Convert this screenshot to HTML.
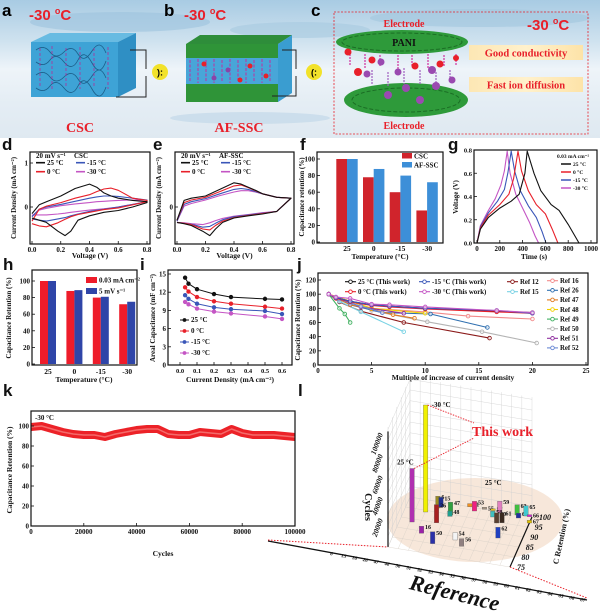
<!DOCTYPE html>
<html><head><meta charset="utf-8">
<style>
body{margin:0;background:#fff}
svg{display:block}
text{font-family:"Liberation Serif",serif;font-weight:bold}
.sans{font-family:"Liberation Sans",sans-serif}
</style></head>
<body>
<svg id="fig" width="600" height="614" viewBox="0 0 600 614" xmlns="http://www.w3.org/2000/svg">
<defs>
<linearGradient id="ice" x1="0" y1="0" x2="0" y2="1">
<stop offset="0" stop-color="#a8cbe3"/><stop offset="0.3" stop-color="#cfe2ef"/><stop offset="0.5" stop-color="#eef4f9"/><stop offset="0.75" stop-color="#e4edf4"/><stop offset="1" stop-color="#dfe9f1"/>
</linearGradient>
<linearGradient id="tag" x1="0" y1="0" x2="1" y2="0">
<stop offset="0" stop-color="#fde7b4"/><stop offset="0.5" stop-color="#fff1cc"/><stop offset="1" stop-color="#fde3a8"/>
</linearGradient>
</defs>
<g>
<rect x="0" y="0" width="600" height="138" fill="url(#ice)"/>
<ellipse cx="120" cy="22" rx="90" ry="10" fill="#9cc3dd" opacity="0.6"/>
<ellipse cx="300" cy="30" rx="70" ry="8" fill="#a6c9e0" opacity="0.6"/>
<ellipse cx="480" cy="18" rx="110" ry="9" fill="#a2c6de" opacity="0.6"/>
<ellipse cx="250" cy="118" rx="80" ry="6" fill="#c3d9e8" opacity="0.7"/>
<text x="2" y="16" font-size="17" class="sans">a</text>
<text x="164" y="16" font-size="17" class="sans">b</text>
<text x="311" y="16" font-size="17" class="sans">c</text>
<text x="29" y="20" font-size="15" fill="#e8202a" class="sans" font-weight="normal">-30 <tspan font-size="9" dy="-6">o</tspan><tspan dy="6">C</tspan></text>
<text x="184" y="20" font-size="15" fill="#e8202a" class="sans" font-weight="normal">-30 <tspan font-size="9" dy="-6">o</tspan><tspan dy="6">C</tspan></text>
<text x="527" y="30" font-size="15" fill="#e8202a" class="sans" font-weight="normal">-30 <tspan font-size="9" dy="-6">o</tspan><tspan dy="6">C</tspan></text>
<g>
<polygon points="31,42 118,42 136,33 50,33" fill="#5db7e0" opacity="0.9"/>
<polygon points="118,42 136,33 136,88 118,97" fill="#2f8fc4"/>
<rect x="31" y="42" width="87" height="55" fill="#3ea3d6"/>
<path d="M36,50 q8,-6 14,2 t14,0 t14,2 t14,-3 t14,2 M36,62 q8,6 14,-2 t14,2 t14,-2 t14,3 t14,-2 M36,75 q8,-6 14,2 t14,0 t14,2 t14,-3 t14,2 M36,88 q8,6 14,-2 t14,2 t14,-2 t14,3 t14,-2" stroke="#1c5f8a" stroke-width="0.8" fill="none"/>
<path d="M40,48 v40 M52,46 v45 M66,48 v40 M80,47 v42 M94,48 v40 M108,47 v42" stroke="#b0309a" stroke-width="0.8" stroke-dasharray="3 2" fill="none"/>
<polyline points="130,50 146,50 146,69" stroke="#222" stroke-width="1" fill="none"/>
<polyline points="116,97 146,97 146,76" stroke="#222" stroke-width="1" fill="none"/>
</g>
<circle cx="160" cy="72" r="8" fill="#f2e22a"/>
<text x="160" y="75.5" font-size="9" text-anchor="middle" class="sans">):</text>
<g>
<polygon points="186,44 278,44 292,35 200,35" fill="#2e8d3a"/>
<polygon points="278,44 292,35 292,93 278,102" fill="#3a9dd0"/>
<rect x="186" y="44" width="92" height="58" fill="#48a6d8"/>
<rect x="186" y="44" width="92" height="14" fill="#2f9438"/>
<rect x="186" y="84" width="92" height="18" fill="#2f9438"/>
<path d="M190,60 v22 M198,59 v24 M206,60 v22 M214,59 v24 M222,60 v22 M230,59 v24 M238,60 v22 M246,59 v24 M254,60 v22 M262,59 v24 M270,60 v22" stroke="#c0309e" stroke-width="1" stroke-dasharray="3 1.5"/>
<circle cx="204" cy="64" r="2.5" fill="#e8202a"/><circle cx="228" cy="70" r="2.5" fill="#8a44a8"/><circle cx="250" cy="66" r="2.5" fill="#e8202a"/><circle cx="266" cy="76" r="2.5" fill="#e8202a"/><circle cx="214" cy="78" r="2.5" fill="#8a44a8"/><circle cx="240" cy="80" r="2.5" fill="#e8202a"/>
<polyline points="282,50 296,50 296,69" stroke="#222" stroke-width="1" fill="none"/>
<polyline points="272,96 296,96 296,76" stroke="#222" stroke-width="1" fill="none"/>
</g>
<circle cx="314" cy="72" r="8" fill="#f2e22a"/>
<text x="314" y="75.5" font-size="9" text-anchor="middle" class="sans">(:</text>
<text x="80" y="132" font-size="14" fill="#e8202a" text-anchor="middle">CSC</text>
<text x="239" y="132" font-size="14" fill="#e8202a" text-anchor="middle">AF-SSC</text>
<rect x="334" y="12" width="254" height="122" fill="none" stroke="#e8202a" stroke-width="0.8" stroke-dasharray="2 1.5"/>
<g>
<ellipse cx="402" cy="42" rx="66" ry="12" fill="#2e9a3a"/>
<ellipse cx="402" cy="42" rx="60" ry="9" fill="none" stroke="#1b6e25" stroke-width="1" stroke-dasharray="4 2"/>
<ellipse cx="406" cy="100" rx="62" ry="17" fill="#2e9a3a"/>
<ellipse cx="406" cy="100" rx="54" ry="12" fill="none" stroke="#1b6e25" stroke-width="1" stroke-dasharray="4 2"/>
<path d="M350,54 v12 M365,54 v14 M380,55 v12 M398,55 v14 M412,55 v12 M428,54 v14 M444,55 v12 M456,54 v12" stroke="#d0309e" stroke-width="1.2" stroke-dasharray="2 1"/>
<path d="M372,70 v14 M388,72 v14 M404,68 v16 M420,70 v14 M436,72 v14 M450,70 v12" stroke="#a060c0" stroke-width="1.2" stroke-dasharray="2 1"/>
<circle cx="348" cy="52" r="3.5" fill="#e8202a"/><circle cx="372" cy="60" r="3.5" fill="#e8202a"/><circle cx="358" cy="72" r="4" fill="#e8202a"/><circle cx="415" cy="66" r="3.5" fill="#e8202a"/><circle cx="440" cy="64" r="3.5" fill="#e8202a"/><circle cx="456" cy="58" r="3" fill="#e8202a"/>
<circle cx="381" cy="62" r="3.5" fill="#9a4ab0"/><circle cx="367" cy="74" r="3.5" fill="#9a4ab0"/><circle cx="398" cy="72" r="3.5" fill="#9a4ab0"/><circle cx="432" cy="70" r="4" fill="#9a4ab0"/><circle cx="388" cy="95" r="4" fill="#9a4ab0"/><circle cx="406" cy="88" r="4" fill="#9a4ab0"/><circle cx="436" cy="86" r="4" fill="#9a4ab0"/><circle cx="452" cy="80" r="3.5" fill="#9a4ab0"/><circle cx="420" cy="100" r="4" fill="#9a4ab0"/>
</g>
<text x="404" y="27" font-size="10" fill="#e8202a" text-anchor="middle">Electrode</text>
<text x="404" y="46" font-size="10" fill="#111" text-anchor="middle">PANI</text>
<rect x="469" y="45" width="114" height="15" fill="url(#tag)"/>
<text x="526" y="56.5" font-size="10.5" fill="#e8202a" text-anchor="middle">Good conductivity</text>
<rect x="469" y="77" width="114" height="15" fill="url(#tag)"/>
<text x="526" y="88.5" font-size="10.5" fill="#e8202a" text-anchor="middle">Fast ion diffusion</text>
<text x="404" y="129" font-size="10" fill="#e8202a" text-anchor="middle">Electrode</text>
</g>
<g id="charts"></g>
</svg>
<script>
const cvV_up = [0,0.05,0.1,0.2,0.3,0.4,0.45,0.5,0.55,0.6,0.7,0.8];
const cvV_dn = [0.8,0.7,0.6,0.5,0.4,0.32,0.27,0.23,0.18,0.1,0.05,0];
const cscUp25 = [-0.15,0.05,0.12,0.25,0.42,0.52,0.45,0.32,0.25,0.2,0.15,0.12];
const cscDn25 = [0.1,0.0,-0.08,-0.12,-0.2,-0.3,-0.55,-0.65,-0.55,-0.35,-0.3,-0.25];
const cscUp0 = [-0.32,-0.05,0.02,0.1,0.2,0.28,0.35,0.41,0.43,0.38,0.2,0.15];
const cscDn0 = [0.12,0.05,-0.02,-0.06,-0.12,-0.17,-0.22,-0.28,-0.36,-0.45,-0.43,-0.38];
const cscUp15 = [-0.22,-0.05,0.0,0.06,0.13,0.2,0.23,0.25,0.25,0.24,0.2,0.16];
const cscDn15 = [0.12,0.06,0.0,-0.05,-0.1,-0.16,-0.2,-0.24,-0.27,-0.32,-0.3,-0.27];
const cscUp30 = [-0.2,-0.07,-0.03,0.03,0.07,0.1,0.12,0.13,0.14,0.15,0.16,0.16];
const cscDn30 = [0.12,0.06,0.0,-0.04,-0.07,-0.1,-0.12,-0.14,-0.16,-0.18,-0.18,-0.18];
const afUp25 = [-0.3,0.15,0.2,0.25,0.4,0.55,0.52,0.45,0.38,0.3,0.22,0.2];
const afDn25 = [0.2,-0.1,-0.16,-0.2,-0.25,-0.35,-0.5,-0.65,-0.55,-0.42,-0.38,-0.35];
const afUp0 = [-0.3,0.1,0.16,0.22,0.35,0.48,0.5,0.44,0.37,0.3,0.22,0.2];
const afDn0 = [0.2,-0.1,-0.15,-0.19,-0.24,-0.32,-0.42,-0.52,-0.5,-0.4,-0.37,-0.35];
const afUp15 = [-0.32,0.06,0.12,0.19,0.3,0.4,0.42,0.4,0.35,0.3,0.22,0.2];
const afDn15 = [0.2,-0.1,-0.14,-0.18,-0.22,-0.29,-0.37,-0.44,-0.46,-0.39,-0.37,-0.35];
const afUp30 = [-0.32,0.02,0.08,0.16,0.26,0.34,0.37,0.37,0.34,0.3,0.22,0.2];
const afDn30 = [0.2,-0.1,-0.13,-0.17,-0.21,-0.26,-0.31,-0.36,-0.4,-0.38,-0.36,-0.35];

const fCats = ['25','0','-15','-30'];
const fCSC = [100,78,60,38];
const fAF = [100,88,80,72];
const fTicks = [0,20,40,60,80,100];

const g25t = [0,30,100,200,300,370,420,440,500,560,650,720,800,895];
const g25v = [0,0.12,0.22,0.3,0.36,0.42,0.6,0.79,0.6,0.45,0.33,0.28,0.16,0];
const g0t = [0,30,100,200,280,320,360,390,450,520,600,660,710];
const g0v = [0,0.13,0.24,0.33,0.42,0.55,0.79,0.62,0.45,0.33,0.25,0.12,0];
const g15t = [0,30,100,180,240,270,300,330,380,450,520,570,605];
const g15v = [0,0.14,0.26,0.36,0.46,0.6,0.79,0.62,0.45,0.32,0.22,0.1,0];
const g30t = [0,30,100,160,210,240,265,290,340,400,460,510,540];
const g30v = [0,0.15,0.28,0.38,0.5,0.62,0.79,0.6,0.42,0.3,0.18,0.06,0];

const hCats = ['25','0','-15','-30'];
const hCurrent = [100,88,80,72];
const hScan = [100,89,81,75];

const iX = [0.03,0.05,0.1,0.2,0.3,0.5,0.6];
const i25 = [14.4,13.4,12.5,11.7,11.2,10.9,10.8];
const i0 = [12.8,12.1,11.2,10.5,10.1,9.6,9.3];
const i15 = [11.5,10.9,10.1,9.5,9.2,8.9,8.4];
const i30 = [10.4,10.0,9.3,8.8,8.5,8.0,7.6];

const jThisX = [1,1.67,3,5,6.67,10,16.67,20];
const j25 = [100,95,90,85,83,80,76,74];
const j0 = [100,94,89,84,82,79,75,73];
const j15 = [100,95,90,85,83,80,77,73];
const j30 = [100,96,94,86,85,82,77,74];
const jR12x = [1,2,4,8,16], jR12y = [100,89,76,60,38];
const jR15x = [1,2,4,8], jR15y = [100,90,75,47];
const jR16x = [1,5,10,14,20], jR16y = [100,80,75,69,65];
const jR26x = [1,3,6,10.5,15.8], jR26y = [100,85,74,72,53];
const jR47x = [1,3,5,7,9], jR47y = [100,85,79,71,66];
const jR48x = [1,5,10], jR48y = [100,80,73];
const jR49x = [1,2,2.5,3], jR49y = [100,80,72,60];
const jR50x = [1,5,10.2,15.3,20.4], jR50y = [100,77,61,47,31];
const jR51x = [1,4,8], jR51y = [100,82,73];
const jR52x = [1,2,3,4,6], jR52y = [100,93,87,83,74];

const kCycles = [0,4000,8000,12000,16000,20000,24000,28000,32000,36000,40000,44000,48000,52000,56000,60000,64000,68000,72000,76000,80000,84000,88000,92000,96000,100000];
const kRet = [99,100,97,94,92,91,91,89,92,94,96,97,97,92,91,91,94,93,92,97,93,91,91,91,90,89];
const kTicks = [0,20000,40000,60000,80000,100000];

const lRefLabels = ['6','15','16','26','47','48','50','51','52','53','54','55','56','57','58','59','60','61','62','63','64','65','66','67'];
const lBarNames = ['16','50','6','15','26','47','48','51','53','55','57','59','58','60','61','62','63','64','65','66','67','54','56','this-25','this-30'];
const lBarRef = [0.21,0.33,0.25,0.27,0.29,0.37,0.37,0.49,0.54,0.61,0.68,0.74,0.70,0.75,0.79,0.81,0.88,0.90,0.95,0.98,1.0,0.49,0.56,0.10,0.17];
const lBarRet = [84,80,97,97.7,90,94.7,94,100,98.4,100,100,99.4,97,94.5,95,87.6,99.8,98.5,100,100,97,83.4,81,88.5,94.2];
const lBarCycles = [6500,11000,11000,9000,17000,12000,5000,3000,9000,1800,1800,11000,5500,9500,9500,10000,9500,4500,9500,1800,2500,7000,7000,50000,100000];
const lBarColors = ['#9a22a8','#2a30a8','#9a8a20','#203090','#a82020','#30a040','#20a090','#f09020','#f02080','#a09080','#e0c020','#e080c0','#40c0c0','#5a4030','#3a2a20','#2040c0','#40c040','#2030a0','#40c8d0','#d020d0','#e0c000','#f4f4f4','#908080','#b030b0','#f0f000'];
const lRetTicks = [75,80,85,90,95,100];
const lCycTicks = [20000,40000,60000,80000,100000];

const NS = 'http://www.w3.org/2000/svg';
const root = document.getElementById('charts');
function mk(tag, attrs, parent, name){
  const e = document.createElementNS(NS, tag);
  for (const k in attrs) e.setAttribute(k, attrs[k]);
  
  
  (parent || root).appendChild(e);
  return e;
}
function txt(x, y, s, size, name, o){
  o = o || {};
  const t = mk('text', {x:x, y:y, 'font-size':size, 'text-anchor':o.anchor||'start', fill:o.fill||'#111'}, o.parent, name);
  if (o.rot !== undefined) t.setAttribute('transform', `rotate(${o.rot} ${x} ${y})`);
  if (o.sans) t.setAttribute('class', 'sans');
  if (o.italic) t.setAttribute('font-style', 'italic');
  t.textContent = s;
  return t;
}
function lin(d0, d1, r0, r1){ return v => r0 + (v - d0) * (r1 - r0) / (d1 - d0); }
function frame(x0, y0, x1, y1, name, sw){
  mk('rect', {x:x0, y:y0, width:x1-x0, height:y1-y0, fill:'none', stroke:'#111', 'stroke-width':sw||1.2}, null, name);
}
function path(xs, ys, sx, sy, color, w, name){
  const d = xs.map((v,i)=>(i?'L':'M') + sx(v).toFixed(1) + ',' + sy(ys[i]).toFixed(1)).join(' ');
  return mk('path', {d:d, fill:'none', stroke:color, 'stroke-width':w, 'stroke-linejoin':'round'}, null, name);
}
function yTicks(vals, sy, x0, labels, size, name){
  vals.forEach((v,i)=>{
    mk('line', {x1:x0, x2:x0+3, y1:sy(v), y2:sy(v), stroke:'#111', 'stroke-width':0.8}, null, name + '-tick');
    if (labels) txt(x0-2, sy(v)+2.5, labels[i], size||7, name + '-label', {anchor:'end'});
  });
}
function xTicks(vals, sx, y0, labels, size, name){
  vals.forEach((v,i)=>{
    mk('line', {x1:sx(v), x2:sx(v), y1:y0, y2:y0-3, stroke:'#111', 'stroke-width':0.8}, null, name + '-tick');
    if (labels) txt(sx(v), y0+8, labels[i], size||7, name + '-label', {anchor:'middle'});
  });
}
const RED='#e8202a', BLUE='#3a56b8', MAG='#c455c4', BLK='#111';

function cvPanel(letter, lx, x0, x1, title, sets){
  txt(lx, 150, letter, 17, 'panel-label-' + letter, {sans:true});
  const sx = lin(0, 0.8, x0+2, x1-3);
  const sy = lin(0, 1, 207, 163);
  frame(x0, 152, x1, 244, 'cv-plot-frame-' + letter);
  sets.forEach(s=>{
    path(cvV_up.concat(cvV_dn), s.up.concat(s.dn), sx, sy, s.c, 1.1, 'cv-curve-' + letter + '-' + s.n);
  });
  xTicks([0,0.2,0.4,0.6,0.8], sx, 244, ['0.0','0.2','0.4','0.6','0.8'], 7, 'x-axis-' + letter);
  const yl = letter === 'd' ? [0,1] : [0];
  yTicks(yl, sy, x0, yl.map(String), 7, 'y-axis-' + letter);
  txt((x0+x1)/2, 258, 'Voltage (V)', 7.5, 'x-axis-title-' + letter, {anchor:'middle'});
  txt(x0-14, 198, 'Current Density (mA cm⁻²)', 7, 'y-axis-title-' + letter, {anchor:'middle', rot:-90});
  txt(x0+6, 158, '20 mV s⁻¹', 7, 'legend-title-' + letter);
  txt(x0+44, 158, title, 7, 'legend-sample-' + letter);
  const lg = [[0,165,BLK,'25 °C'],[40,165,BLUE,'-15 °C'],[0,174,RED,'0 °C'],[40,174,MAG,'-30 °C']];
  lg.forEach(l=>{
    mk('line', {x1:x0+6+l[0], x2:x0+15+l[0], y1:l[1]-2.3, y2:l[1]-2.3, stroke:l[2], 'stroke-width':1.6}, null, 'legend-swatch-' + letter);
    txt(x0+17+l[0], l[1], l[3], 7, 'legend-entry-' + letter);
  });
}
cvPanel('d', 2, 30, 150, 'CSC', [
  {n:'30', c:MAG, up:cscUp30, dn:cscDn30},{n:'15', c:BLUE, up:cscUp15, dn:cscDn15},
  {n:'0', c:RED, up:cscUp0, dn:cscDn0},{n:'25', c:BLK, up:cscUp25, dn:cscDn25}]);
cvPanel('e', 153, 175, 294, 'AF-SSC', [
  {n:'30', c:MAG, up:afUp30, dn:afDn30},{n:'15', c:BLUE, up:afUp15, dn:afDn15},
  {n:'0', c:RED, up:afUp0, dn:afDn0},{n:'25', c:BLK, up:afUp25, dn:afDn25}]);

(function(){
  txt(300, 150, 'f', 17, 'panel-label-f', {sans:true});
  const sy = lin(0, 100, 242, 159);
  const cx = i => 347 + i * 26.7;
  fCats.forEach((c,i)=>{
    mk('rect', {x:cx(i)-10.7, y:sy(fCSC[i]), width:10.7, height:sy(0)-sy(fCSC[i]), fill:'#d0242c'}, null, 'bar-csc-' + c);
    mk('rect', {x:cx(i), y:sy(fAF[i]), width:10.7, height:sy(0)-sy(fAF[i]), fill:'#3d8fd8'}, null, 'bar-af-ssc-' + c);
    txt(cx(i), 251, c, 7.5, 'x-tick-label-f', {anchor:'middle'});
  });
  frame(317, 152, 443, 243, 'plot-frame-f');
  yTicks(fTicks, sy, 317, fTicks.map(String), 7, 'y-axis-f');
  txt(380, 259, 'Temperature (°C)', 7.5, 'x-axis-title-f', {anchor:'middle'});
  txt(304, 197, 'Capacitance retention (%)', 7, 'y-axis-title-f', {anchor:'middle', rot:-90});
  mk('rect', {x:402, y:153, width:10, height:5.5, fill:'#d0242c'}, null, 'legend-swatch-csc');
  txt(414, 158.5, 'CSC', 7, 'legend-entry-csc');
  mk('rect', {x:402, y:162, width:10, height:5.5, fill:'#3d8fd8'}, null, 'legend-swatch-af-ssc');
  txt(414, 167.5, 'AF-SSC', 7, 'legend-entry-af-ssc');
})();

(function(){
  txt(448, 150, 'g', 17, 'panel-label-g', {sans:true});
  const sx = lin(0, 1000, 477, 591);
  const sy = lin(0, 0.8, 243, 150);
  path(g30t, g30v, sx, sy, MAG, 1.1, 'gcd-curve-minus30');
  path(g15t, g15v, sx, sy, BLUE, 1.1, 'gcd-curve-minus15');
  path(g0t, g0v, sx, sy, RED, 1.1, 'gcd-curve-0');
  path(g25t, g25v, sx, sy, BLK, 1.1, 'gcd-curve-25');
  frame(474, 150, 597, 243, 'plot-frame-g');
  xTicks([0,200,400,600,800,1000], sx, 243, ['0','200','400','600','800','1000'], 7, 'x-axis-g');
  yTicks([0,0.2,0.4,0.6,0.8], sy, 474, ['0.0','0.2','0.4','0.6','0.8'], 6.5, 'y-axis-g');
  txt(534, 259, 'Time (s)', 7.5, 'x-axis-title-g', {anchor:'middle'});
  txt(458, 197, 'Voltage (V)', 7, 'y-axis-title-g', {anchor:'middle', rot:-90});
  txt(557, 158, '0.03 mA cm⁻²', 5.5, 'legend-title-g');
  [[166,BLK,'25 °C'],[174,RED,'0 °C'],[182,BLUE,'-15 °C'],[190,MAG,'-30 °C']].forEach(l=>{
    mk('line', {x1:561, x2:571, y1:l[0]-2, y2:l[0]-2, stroke:l[1], 'stroke-width':1.5}, null, 'legend-swatch-g');
    txt(573, l[0], l[2], 5.5, 'legend-entry-g');
  });
})();

(function(){
  txt(3, 270, 'h', 17, 'panel-label-h', {sans:true});
  const sy = lin(0, 100, 364, 281);
  const cx = i => 48 + i * 26.4;
  hCats.forEach((c,i)=>{
    mk('rect', {x:cx(i)-8, y:sy(hCurrent[i]), width:8, height:sy(0)-sy(hCurrent[i]), fill:'#ee1c2a'}, null, 'bar-current-' + c);
    mk('rect', {x:cx(i), y:sy(hScan[i]), width:8, height:sy(0)-sy(hScan[i]), fill:'#2f45a8'}, null, 'bar-scan-' + c);
    txt(cx(i), 374, c, 7.5, 'x-tick-label-h', {anchor:'middle'});
  });
  frame(32, 270, 137, 365, 'plot-frame-h');
  yTicks([0,20,40,60,80,100], sy, 32, ['0','20','40','60','80','100'], 7, 'y-axis-h');
  txt(84, 382, 'Temperature (°C)', 7.5, 'x-axis-title-h', {anchor:'middle'});
  txt(11, 318, 'Capacitance Retention (%)', 7, 'y-axis-title-h', {anchor:'middle', rot:-90});
  mk('rect', {x:86, y:277, width:11, height:6, fill:'#ee1c2a'}, null, 'legend-swatch-current');
  txt(99, 282.5, '0.03 mA cm⁻²', 7, 'legend-entry-current');
  mk('rect', {x:86, y:288, width:11, height:6, fill:'#2f45a8'}, null, 'legend-swatch-scan');
  txt(99, 293.5, '5 mV s⁻¹', 7, 'legend-entry-scan');
})();

(function(){
  txt(140, 270, 'i', 17, 'panel-label-i', {sans:true});
  const sx = lin(0, 0.6, 180, 282);
  const sy = lin(0, 15, 365, 274);
  [[i25,BLK,'25'],[i0,RED,'0'],[i15,BLUE,'minus15'],[i30,MAG,'minus30']].forEach(s=>{
    path(iX, s[0], sx, sy, s[1], 1, 'rate-line-' + s[2]);
    iX.forEach((x,k)=>{
      mk('circle', {cx:sx(x), cy:sy(s[0][k]), r:1.9, fill:s[1], stroke:s[1], 'stroke-width':0.6}, null, 'rate-point-' + s[2]);
    });
  });
  frame(168, 270, 292, 365, 'plot-frame-i');
  xTicks([0,0.1,0.2,0.3,0.4,0.5,0.6], sx, 365, ['0.0','0.1','0.2','0.3','0.4','0.5','0.6'], 6.5, 'x-axis-i');
  yTicks([0,3,6,9,12,15], sy, 168, ['0','3','6','9','12','15'], 7, 'y-axis-i');
  txt(230, 382, 'Current Density (mA cm⁻²)', 7.5, 'x-axis-title-i', {anchor:'middle'});
  txt(155, 318, 'Areal Capacitance (mF cm⁻²)', 7, 'y-axis-title-i', {anchor:'middle', rot:-90});
  [[322,BLK,'25 °C'],[333,RED,'0 °C'],[344,BLUE,'-15 °C'],[355,MAG,'-30 °C']].forEach(l=>{
    mk('line', {x1:180, x2:189, y1:l[0]-2, y2:l[0]-2, stroke:l[1], 'stroke-width':1}, null, 'legend-swatch-i');
    mk('circle', {cx:184.5, cy:l[0]-2, r:1.9, fill:l[1]}, null, 'legend-marker-i');
    txt(191, l[0], l[2], 7, 'legend-entry-i');
  });
})();

(function(){
  txt(297, 270, 'j', 17, 'panel-label-j', {sans:true});
  const sx = lin(0, 25, 318, 586);
  const sy = lin(0, 120, 365, 280);
  const series = [
    [jR50x,jR50y,'#b4b4b4','ref-50'],[jR12x,jR12y,'#8b1a1a','ref-12'],[jR15x,jR15y,'#78d2e4','ref-15'],
    [jR16x,jR16y,'#f28a8a','ref-16'],[jR26x,jR26y,'#3070b0','ref-26'],[jR47x,jR47y,'#e07a20','ref-47'],
    [jR48x,jR48y,'#f2d000','ref-48'],[jR49x,jR49y,'#40b060','ref-49'],[jR51x,jR51y,'#9030a0','ref-51'],
    [jR52x,jR52y,'#6a88d4','ref-52'],
    [jThisX,j25,BLK,'this-work-25'],[jThisX,j0,RED,'this-work-0'],[jThisX,j15,BLUE,'this-work-minus15'],[jThisX,j30,MAG,'this-work-minus30']];
  series.forEach(s=>{
    path(s[0], s[1], sx, sy, s[2], 1.1, 'retention-line-' + s[3]);
    s[0].forEach((x,k)=>{
      mk('circle', {cx:sx(x), cy:sy(s[1][k]), r:1.8, fill:'#fff', 'fill-opacity':0.5, stroke:s[2], 'stroke-width':0.9}, null, 'retention-point-' + s[3]);
    });
  });
  frame(318, 273, 588, 365, 'plot-frame-j');
  xTicks([0,5,10,15,20,25], sx, 365, ['0','5','10','15','20','25'], 7, 'x-axis-j');
  yTicks([0,20,40,60,80,100,120], sy, 318, ['0','20','40','60','80','100','120'], 7, 'y-axis-j');
  txt(453, 380, 'Multiple of increase of current density', 7.5, 'x-axis-title-j', {anchor:'middle'});
  txt(300, 320, 'Capacitance Retention (%)', 7, 'y-axis-title-j', {anchor:'middle', rot:-90});
  const leg = [
    [345,284,BLK,'25 °C (This work)'],[419,284,BLUE,'-15 °C (This work)'],[507,284,'#8b1a1a','Ref 12'],
    [345,294,RED,'0 °C (This work)'],[419,294,MAG,'-30 °C (This work)'],[507,294,'#78d2e4','Ref 15'],
    [547,283,'#f28a8a','Ref 16'],[547,292.6,'#3070b0','Ref 26'],[547,302.2,'#e07a20','Ref 47'],[547,311.8,'#f2d000','Ref 48'],
    [547,321.4,'#40b060','Ref 49'],[547,331,'#b4b4b4','Ref 50'],[547,340.6,'#9030a0','Ref 51'],[547,350.2,'#6a88d4','Ref 52']];
  leg.forEach(l=>{
    mk('line', {x1:l[0], x2:l[0]+11, y1:l[1]-2.3, y2:l[1]-2.3, stroke:l[2], 'stroke-width':1.1}, null, 'legend-swatch-j');
    mk('circle', {cx:l[0]+5.5, cy:l[1]-2.3, r:1.8, fill:'#fff', stroke:l[2], 'stroke-width':0.9}, null, 'legend-marker-j');
    txt(l[0]+13, l[1], l[3], 6.8, 'legend-entry-j');
  });
})();

(function(){
  txt(3, 396, 'k', 17, 'panel-label-k', {sans:true});
  const sx = lin(0, 100000, 31, 295);
  const sy = lin(0, 100, 526, 426);
  path(kCycles, kRet, sx, sy, '#ec2228', 8, 'cycling-band');
  path(kCycles, kRet, sx, sy, '#f46a6a', 1.5, 'cycling-line');
  frame(31, 411, 295, 526, 'plot-frame-k');
  xTicks(kTicks, sx, 526, kTicks.map(String), 7, 'x-axis-k');
  yTicks([0,20,40,60,80,100], sy, 31, ['0','20','40','60','80','100'], 7, 'y-axis-k');
  txt(163, 556, 'Cycles', 7.5, 'x-axis-title-k', {anchor:'middle'});
  txt(12, 470, 'Capacitance Retention (%)', 7.5, 'y-axis-title-k', {anchor:'middle', rot:-90});
  txt(35, 420, '-30 °C', 7, 'temperature-annotation-k');
})();

(function(){
  txt(298, 396, 'l', 17, 'panel-label-l', {sans:true});
  const O = [388, 547];
  const proj = (r, ret, cyc) => {
    const c = (ret - 75) / 25;
    return [O[0] + 122*r + 22*c, O[1] + 20*r - 50*c - cyc * 107 / 100000];
  };
  mk('ellipse', {cx:475, cy:520, rx:88, ry:42, fill:'#f6e3d3', opacity:0.85}, null, 'highlight-region');
  for (let k=0;k<=12;k++){
    const a = proj(k/12, 100, 0), b = proj(k/12, 100, 112000);
    mk('line', {x1:a[0], y1:a[1], x2:b[0], y2:b[1], stroke:'#cfcfcf', 'stroke-width':0.4}, null, 'grid-back');
    const f = proj(k/12, 75, 0);
    mk('line', {x1:a[0], y1:a[1], x2:f[0], y2:f[1], stroke:'#d8d0c8', 'stroke-width':0.4}, null, 'grid-floor');
  }
  for (let z=0; z<=110000; z+=10000){
    const a = proj(0, 100, z), b = proj(1, 100, z), c = proj(0, 75, z);
    mk('line', {x1:a[0], y1:a[1], x2:b[0], y2:b[1], stroke:'#cfcfcf', 'stroke-width':0.4}, null, 'grid-back');
    mk('line', {x1:a[0], y1:a[1], x2:c[0], y2:c[1], stroke:'#cfcfcf', 'stroke-width':0.4}, null, 'grid-left');
  }
  for (let rt=75; rt<=100; rt+=5){
    const a = proj(0, rt, 0), b = proj(1, rt, 0), c = proj(0, rt, 112000);
    mk('line', {x1:a[0], y1:a[1], x2:b[0], y2:b[1], stroke:'#d8d0c8', 'stroke-width':0.4}, null, 'grid-floor');
    mk('line', {x1:a[0], y1:a[1], x2:c[0], y2:c[1], stroke:'#cfcfcf', 'stroke-width':0.4}, null, 'grid-left');
  }
  const o0 = proj(0,75,0), ztop = proj(0,75,108000), r1 = proj(1,75,0), c1 = proj(1,100,0);
  mk('line', {x1:o0[0], y1:o0[1], x2:ztop[0], y2:ztop[1], stroke:'#111', 'stroke-width':1.2}, null, 'cycles-axis');
  mk('line', {x1:r1[0], y1:r1[1], x2:c1[0], y2:c1[1], stroke:'#111', 'stroke-width':1.2}, null, 'retention-axis');
  lRetTicks.forEach(t=>{
    const p = proj(1, t, 0);
    txt(p[0]+7, p[1]+3, String(t), 8, 'retention-tick-label', {italic:true});
  });
  lCycTicks.forEach(t=>{
    const p = proj(0, 75, t);
    txt(p[0]-5, p[1]-6, String(t), 7.5, 'cycles-tick-label', {anchor:'end', italic:true, rot:-70});
  });
  txt(365, 507, 'Cycles', 10, 'cycles-axis-title', {anchor:'middle', rot:90});
  txt(564, 537, 'C Retention (%)', 8, 'retention-axis-title', {anchor:'middle', rot:-78});
  lBarNames.forEach((n,i)=>{
    const b = proj(lBarRef[i], lBarRet[i], 0), t = proj(lBarRef[i], lBarRet[i], lBarCycles[i]);
    const w = 4.5;
    mk('rect', {x:b[0]-w/2, y:t[1], width:w, height:Math.max(1.5, b[1]-t[1]), fill:lBarColors[i], stroke:'#555', 'stroke-width':0.3}, null, 'bar-ref-' + n);
    if (n.indexOf('this') < 0) txt(b[0]+3.5, t[1]+3, n, 6, 'bar-label-' + n);
  });
  mk('line', {x1:268, y1:541, x2:587, y2:600, stroke:'#111', 'stroke-width':1.3}, null, 'reference-axis');
  mk('line', {x1:268, y1:540, x2:o0[0], y2:o0[1], stroke:RED, 'stroke-width':1, 'stroke-dasharray':'1.5 1.5'}, null, 'zoom-guide-left');
  mk('line', {x1:r1[0], y1:r1[1], x2:587, y2:598, stroke:RED, 'stroke-width':1, 'stroke-dasharray':'1.5 1.5'}, null, 'zoom-guide-right');
  lRefLabels.forEach((s,i)=>{
    const x = 330 + i * 250 / 23, y = 555 + i * 46 / 23;
    txt(x, y, s, 5, 'reference-tick-label', {italic:true, rot:11});
  });
  txt(453, 600, 'Reference', 22, 'reference-axis-title', {anchor:'middle', italic:true, rot:14});
  const y30 = proj(lBarRef[24], lBarRet[24], lBarCycles[24]);
  const y25 = proj(lBarRef[23], lBarRet[23], lBarCycles[23]);
  txt(y30[0]+6, y30[1]+2, '-30 °C', 7, 'annotation-minus30');
  txt(y25[0]-15, y25[1]-4, '25 °C', 7, 'annotation-25');
  txt(485, 485, '25 °C', 7, 'annotation-25-refs');
  txt(472, 436, 'This work', 14, 'this-work-label', {fill:RED});
  mk('line', {x1:y30[0]+2, y1:y30[1], x2:474, y2:423, stroke:RED, 'stroke-width':0.9, 'stroke-dasharray':'1.5 1.2'}, null, 'this-work-arrow-1');
  mk('line', {x1:y25[0]+2, y1:y25[1], x2:474, y2:438, stroke:RED, 'stroke-width':0.9, 'stroke-dasharray':'1.5 1.2'}, null, 'this-work-arrow-2');
})();
</script>
</body></html>
